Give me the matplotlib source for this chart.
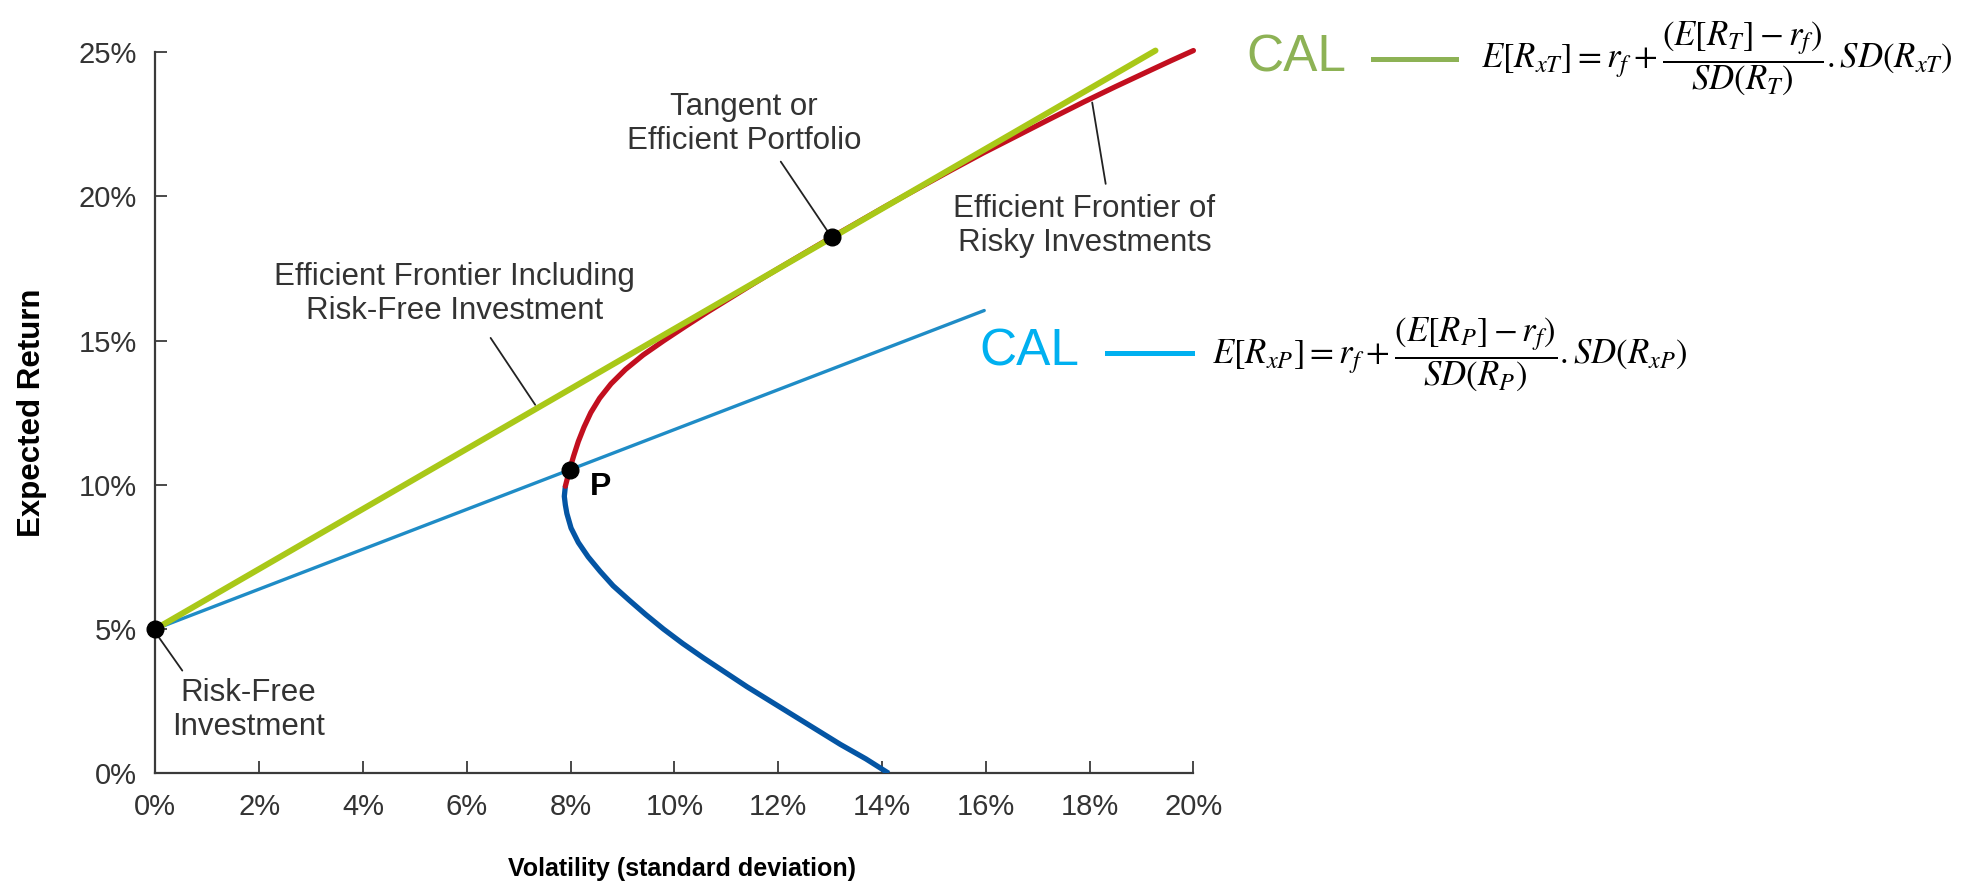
import matplotlib
matplotlib.use("Agg")
import matplotlib.pyplot as plt
from matplotlib.lines import Line2D

plt.rcParams['font.family'] = ['Liberation Sans', 'DejaVu Sans']
plt.rcParams['mathtext.fontset'] = 'stix'

# efficient frontier (volatility %, expected return %)
# lower (inefficient) branch, from the x axis up to just below P
lower_ret = [0.00, 0.50, 1.00, 1.50, 2.00, 2.50, 3.00, 3.50, 4.00, 4.50, 5.00, 5.50,
             6.00, 6.50, 7.00, 7.50, 8.00, 8.50, 9.00, 9.30, 9.60, 9.95]
lower_sigma = [14.13, 13.69, 13.20, 12.75, 12.30, 11.85, 11.40, 10.98, 10.56, 10.16, 9.79,
               9.45, 9.13, 8.82, 8.57, 8.34, 8.15, 8.01, 7.93, 7.90, 7.88, 7.90]
# upper (efficient) branch, from just below P to the top right
upper_ret = [9.95, 10.51, 11.00, 11.50, 12.00, 12.50, 13.00, 13.50, 14.00, 14.50, 15.00,
             15.50, 16.00, 16.50, 17.00, 17.50, 18.00, 18.58, 19.00, 19.64, 20.00, 20.91,
             21.50, 22.14, 22.70, 23.27, 23.80, 24.39, 24.70, 25.05]
upper_sigma = [7.90, 7.98, 8.06, 8.15, 8.26, 8.39, 8.56, 8.78, 9.06, 9.40, 9.80,
               10.22, 10.65, 11.10, 11.55, 12.01, 12.48, 13.03, 13.44, 14.06, 14.42, 15.34,
               15.95, 16.65, 17.26, 17.89, 18.50, 19.20, 19.57, 20.00]

# capital allocation lines
cal_t_sigma = [0.0, 19.27]
cal_t_ret = [5.0, 25.05]
cal_p_sigma = [0.0, 15.97]
cal_p_ret = [5.0, 16.04]

# marked portfolios: risk-free, P, tangent
dot_sigma = [0.0, 7.98, 13.03]
dot_ret = [5.0, 10.51, 18.58]

x_ticks = [0, 2, 4, 6, 8, 10, 12, 14, 16, 18, 20]
y_ticks = [0, 5, 10, 15, 20, 25]

GREEN = '#a9c818'
RED = '#c20f1f'
DBLUE = '#0455a4'
LBLUE = '#1f8cc6'
AXC = '#3a3a3a'
TXT = '#333333'

fig = plt.figure(figsize=(19.8, 8.83), dpi=100)
ax = fig.add_axes([155.3 / 1980, 1 - 773.3 / 883, 1038.1 / 1980, 721.3 / 883])

ax.plot(cal_p_sigma, cal_p_ret, color=LBLUE, lw=2.4, solid_capstyle='round', zorder=2)
ax.plot(lower_sigma, lower_ret, color=DBLUE, lw=3.8, solid_capstyle='butt',
        solid_joinstyle='round', zorder=3)
ax.plot(upper_sigma, upper_ret, color=RED, lw=3.8, solid_capstyle='round',
        solid_joinstyle='round', clip_on=False, zorder=3)
ax.plot(cal_t_sigma, cal_t_ret, color=GREEN, lw=4.3, solid_capstyle='round',
        clip_on=False, zorder=4)
ax.plot(dot_sigma, dot_ret, 'o', color='black', ms=12, clip_on=False, zorder=6)

ax.set_xlim(0, 20)
ax.set_ylim(0, 25)
ax.set_xticks(x_ticks)
ax.set_xticklabels([f'{v}%' for v in x_ticks])
ax.set_yticks(y_ticks)
ax.set_yticklabels([f'{v}%' for v in y_ticks])
for side in ['top', 'right']:
    ax.spines[side].set_visible(False)
for side in ['left', 'bottom']:
    ax.spines[side].set_color(AXC)
    ax.spines[side].set_linewidth(1.6)
ax.tick_params(direction='in', length=8.5, width=1.3, color=AXC,
               labelsize=21, labelcolor=TXT)
ax.tick_params(axis='x', pad=14)
ax.tick_params(axis='y', pad=13)

ax.set_xlabel('Volatility (standard deviation)', fontsize=18, fontweight='bold')
ax.xaxis.set_label_coords(0.507, -0.116)
ax.set_ylabel('Expected Return', fontsize=22.5, fontweight='bold')
ax.yaxis.set_label_coords(-0.104, 0.50)

ann = dict(fontsize=22.5, color=TXT, ha='center', va='center',
           multialignment='center', linespacing=1.2)
lead = dict(arrowstyle='-', color='#222222', lw=1.3, shrinkA=0, shrinkB=0)

ax.text(11.34, 22.5, 'Tangent or\nEfficient Portfolio', **ann)
ax.annotate('', xy=(13.03, 18.58), xytext=(12.05, 21.2), arrowprops=lead)

ax.text(17.90, 18.97, 'Efficient Frontier of\nRisky Investments', **ann)
ax.annotate('', xy=(18.05, 23.25), xytext=(18.31, 20.43), arrowprops=lead)

ax.text(5.76, 16.61, 'Efficient Frontier Including\nRisk-Free Investment', **ann)
ax.annotate('', xy=(7.32, 12.77), xytext=(6.46, 15.09), arrowprops=lead)

ax.text(1.80, 2.19, 'Risk-Free\nInvestment', **ann)
ax.annotate('', xy=(0.52, 3.56), xytext=(0.05, 4.76), arrowprops=lead)

ax.text(8.57, 9.91, 'P', fontsize=23, fontweight='bold', color='black',
        ha='center', va='center')

# CAL legends with their equations
fig.text(1246 / 1980, 1 - 71 / 883, 'CAL', fontsize=37, color='#8db255',
         ha='left', va='baseline')
fig.add_artist(Line2D([1373 / 1980, 1456 / 1980], [1 - 59.3 / 883] * 2,
                      color='#8db255', lw=3.6))
fig.text(1481 / 1980, 1 - 58 / 883,
         r'$E\left[R_{xT}\right]=r_f+\dfrac{\left(E\left[R_T\right]-r_f\right)}{SD(R_T)}.SD(R_{xT})$',
         fontsize=25, color='black', ha='left', va='center')

fig.text(979.5 / 1980, 1 - 365 / 883, 'CAL', fontsize=37, color='#00b0f0',
         ha='left', va='baseline')
fig.add_artist(Line2D([1106.7 / 1980, 1191.5 / 1980], [1 - 352.7 / 883] * 2,
                      color='#00b0f0', lw=3.6))
fig.text(1212 / 1980, 1 - 354 / 883,
         r'$E\left[R_{xP}\right]=r_f+\dfrac{\left(E\left[R_P\right]-r_f\right)}{SD(R_P)}.SD(R_{xP})$',
         fontsize=25, color='black', ha='left', va='center')

fig.savefig('out.png', dpi=100)
